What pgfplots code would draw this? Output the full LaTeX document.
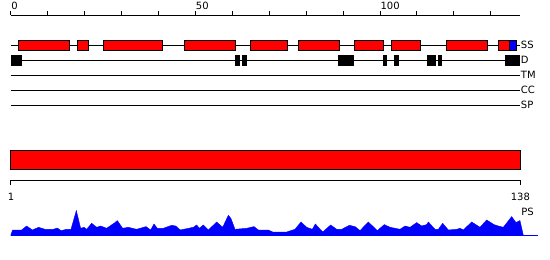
\documentclass[border=0pt]{standalone}
\usepackage{pgfplots}
\usepackage{pgfplotstable}
\pgfplotsset{compat=1.18}
\usepackage{fontspec}
\setmainfont{DejaVu Sans}

\pgfplotstableread{
u h
0 0
0.53 5.3
2.97 5.3
4.32 9.3
5.86 5.3
7.57 8
9.29 6
11.54 6
12.63 7.3
13.62 4.7
15.15 6
16.33 6
17.77 24.7
18.94 7
19.85 8
20.57 6
21.92 12
23.28 8
24.36 9.3
25.98 7
28.24 12.7
28.87 14.7
30.32 7
31.85 8
34.11 6
36.64 8.7
37.9 5.3
38.8 11.3
39.7 7
41.33 7
43.58 10
44.67 9.3
45.93 5.3
49.45 8
50.36 10.3
51.08 7
52.16 10.3
53.52 5.3
55.77 13.3
57.4 8
58.93 20
59.65 16.7
60.74 6
63.9 7
65.88 8.7
67.05 5.3
69.76 5.3
70.93 3.3
72.92 3.3
74.73 3.3
76.98 6
78.61 13.3
80.14 8
81.68 6
82.49 11.3
84.48 3.3
86.64 10.3
88.27 6
89.62 6
91.7 10
93.23 8.7
94.58 4.7
96.84 13.3
99.27 4.7
101.17 10.7
102.71 8
105.42 6
106.77 9.3
108.12 8
109.93 12.7
111.28 9.3
112.64 10.7
113.09 13.3
114.89 6
115.8 6
116.97 12
118.5 5.3
120.76 6
121.66 7
122.56 5.3
124.82 13.3
127.08 8
128.88 15.3
130.87 10.7
132.04 9.3
133.39 8
135.65 18.7
136.82 12.7
137.9 14.7
138.8 0
}\psprofile

\newcommand\ssbox[3]{\addplot[fill=#3, draw=black, line width=1pt] coordinates {(#1,40.8) (#2,40.8) (#2,50.2) (#1,50.2)} -- cycle;}
\newcommand\dbox[2]{\addplot[fill=black, draw=none] coordinates {(#1,55.3) (#2,55.3) (#2,65.7) (#1,65.7)} -- cycle;}

\begin{document}
\begin{tikzpicture}
\begin{axis}[
  scale only axis, width=550pt, height=260pt,
  xmin=-2.897, xmax=146.03, ymin=0, ymax=260,
  y dir=reverse, hide axis, clip=false,
  every node/.style={font=\fontsize{10.5}{12}\selectfont},
]
% invisible frame
\addplot[draw=none] coordinates {(-2.897,0) (146.03,260)};
% top ruler
\addplot[black, line width=1pt] coordinates {(0,15) (138,15)};
\pgfplotsinvokeforeach{0,10,...,130}{\addplot[black, line width=1pt] coordinates {(#1,11) (#1,15)};}
\node[anchor=base west, inner sep=0pt] at (axis cs:0.1,9.7) {0};
\node[anchor=base west, inner sep=0pt] at (axis cs:50.1,9.7) {50};
\node[anchor=base west, inner sep=0pt] at (axis cs:100.1,9.7) {100};
% track lines
\addplot[black, line width=1pt] coordinates {(0,45) (138,45)};
\addplot[black, line width=1pt] coordinates {(0,60.3) (138,60.3)};
\addplot[black, line width=1pt] coordinates {(0,75.3) (138,75.3)};
\addplot[black, line width=1pt] coordinates {(0,90) (138,90)};
\addplot[black, line width=1pt] coordinates {(0,105.3) (138,105.3)};
% SS boxes
\ssbox{2}{16}{red}
\ssbox{18}{21}{red}
\ssbox{25}{41}{red}
\ssbox{47}{61}{red}
\ssbox{65}{75}{red}
\ssbox{78}{89}{red}
\ssbox{93}{101}{red}
\ssbox{103}{111}{red}
\ssbox{118}{129}{red}
\ssbox{132}{135}{red}
\ssbox{135}{137}{blue}
% D boxes
\dbox{0}{3}
\dbox{60.7}{62.1}
\dbox{62.6}{63.9}
\dbox{88.6}{92.9}
\dbox{100.8}{101.9}
\dbox{103.7}{105.1}
\dbox{112.7}{115.1}
\dbox{115.7}{116.9}
\dbox{133.8}{138}
% track labels
\node[anchor=west, inner sep=0pt] at (axis cs:138.1,45) {SS};
\node[anchor=west, inner sep=0pt] at (axis cs:138.1,60.3) {D};
\node[anchor=west, inner sep=0pt] at (axis cs:138.1,75.3) {TM};
\node[anchor=west, inner sep=0pt] at (axis cs:138.1,90) {CC};
\node[anchor=west, inner sep=0pt] at (axis cs:138.1,105.3) {SP};
% big red bar
\addplot[fill=red, draw=black, line width=1pt] coordinates {(0,150.8) (138,150.8) (138,169.8) (0,169.8)} -- cycle;
% lower ruler
\addplot[black, line width=1pt] coordinates {(0,185.3) (0,180.3) (138,180.3) (138,185.3)};
\node[anchor=base, inner sep=0pt] at (axis cs:0.1,200) {1};
\node[anchor=base, inner sep=0pt] at (axis cs:138,200) {138};
\node[anchor=base west, inner sep=0pt] at (axis cs:138.2,215) {PS};
% profile
\addplot[fill=blue, draw=blue, line width=0.4pt] table[x=u, y expr=235.3-\thisrow{h}] {\psprofile};
\addplot[blue, line width=1pt] coordinates {(0,235.3) (142.8,235.3)};
\end{axis}
\end{tikzpicture}
\end{document}
